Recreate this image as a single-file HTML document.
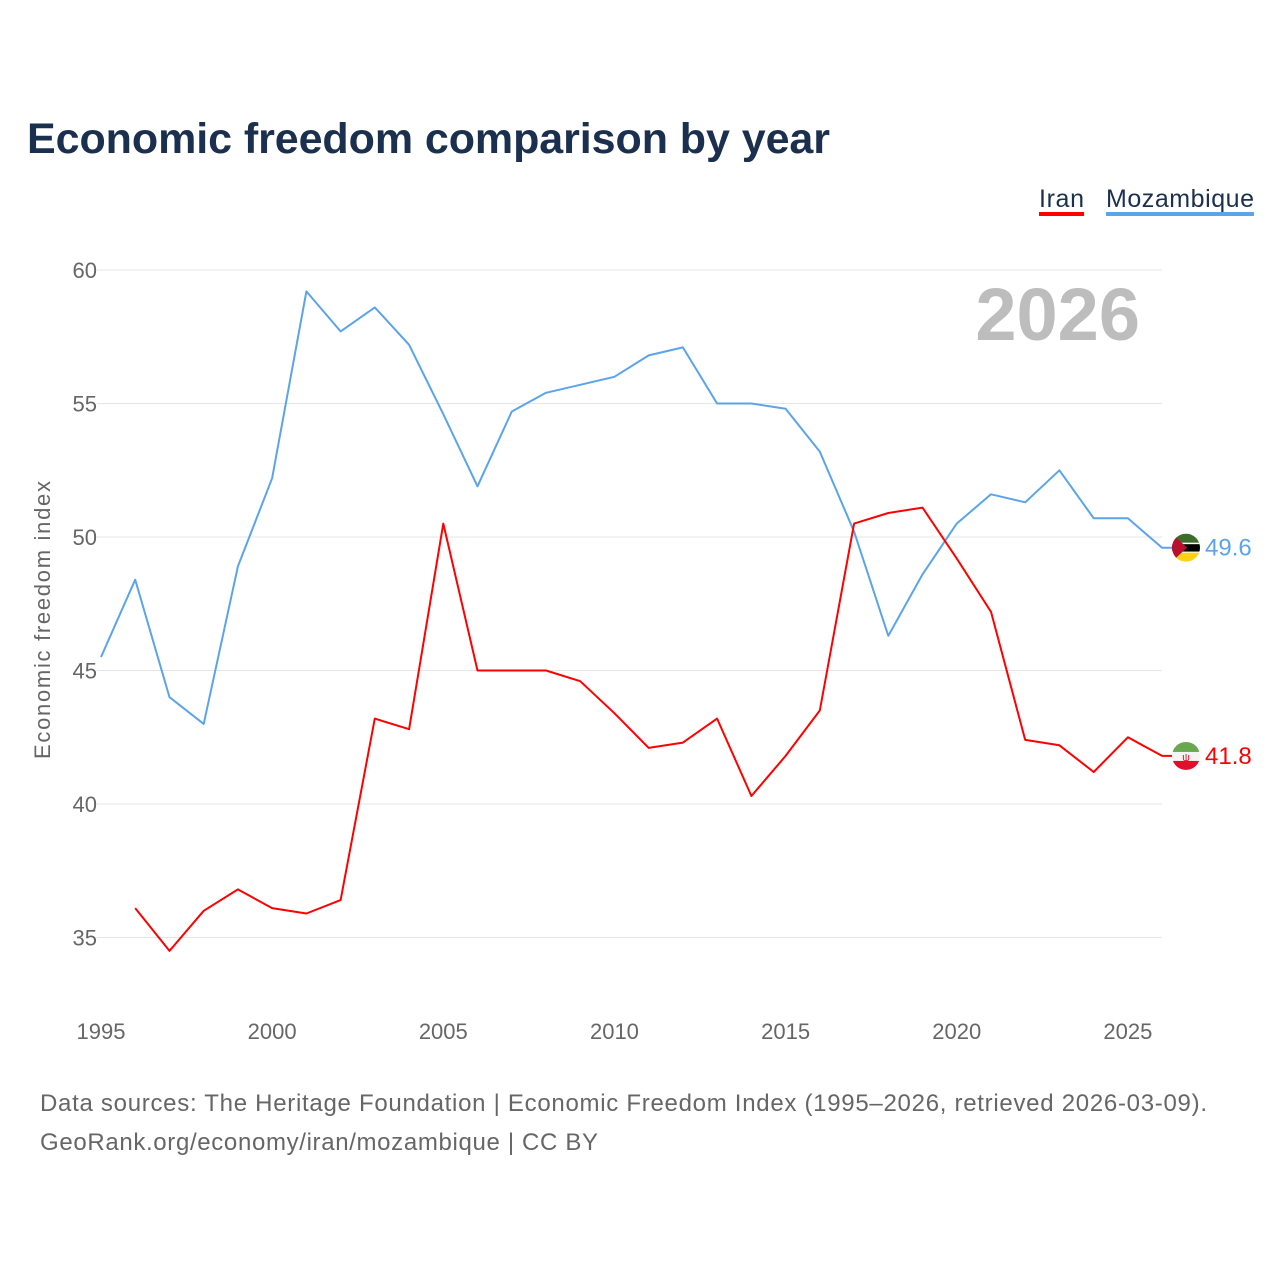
<!DOCTYPE html>
<html><head><meta charset="utf-8"><style>
body{margin:0;background:#fff;font-family:"Liberation Sans",sans-serif}
</style></head><body>
<svg width="1280" height="1280" xmlns="http://www.w3.org/2000/svg">
<rect width="1280" height="1280" fill="#fff"/>
<text x="27" y="153" font-size="43" font-weight="bold" fill="#1b2f4e" textLength="803">Economic freedom comparison by year</text>
<g id="legend" font-size="25" fill="#1b2f4e">
<text x="1039" y="207" textLength="45">Iran</text>
<rect x="1039" y="212" width="45" height="4" fill="#ff0000"/>
<text x="1106" y="207" textLength="148">Mozambique</text>
<rect x="1106" y="212" width="148" height="4" fill="#5ba4ea"/>
</g>
<text x="1140" y="340" font-size="74" font-weight="bold" fill="#bdbdbd" text-anchor="end">2026</text>
<g id="grid"></g><g id="xt"></g>
<text transform="translate(50,620) rotate(-90)" font-size="22" fill="#666" text-anchor="middle" textLength="278">Economic freedom index</text>
<g id="series"></g>
<defs id="defs"></defs>
<g id="ends"></g>
<text x="40" y="1111" font-size="24" fill="#666" textLength="1167">Data sources: The Heritage Foundation | Economic Freedom Index (1995–2026, retrieved 2026-03-09).</text>
<text x="40" y="1150" font-size="24" fill="#666" textLength="558">GeoRank.org/economy/iran/mozambique | CC BY</text>
</svg>
<script>
const years=[1995,1996,1997,1998,1999,2000,2001,2002,2003,2004,2005,2006,2007,2008,2009,2010,2011,2012,2013,2014,2015,2016,2017,2018,2019,2020,2021,2022,2023,2024,2025,2026];
const mozambique=[45.5,48.4,44.0,43.0,48.9,52.2,59.2,57.7,58.6,57.2,54.6,51.9,54.7,55.4,55.7,56.0,56.8,57.1,55.0,55.0,54.8,53.2,50.2,46.3,48.6,50.5,51.6,51.3,52.5,50.7,50.7,49.6];
const iran=[null,36.1,34.5,36.0,36.8,36.1,35.9,36.4,43.2,42.8,50.5,45.0,45.0,45.0,44.6,43.4,42.1,42.3,43.2,40.3,41.8,43.5,50.5,50.9,51.1,49.2,47.2,42.4,42.2,41.2,42.5,41.8];
const yTicks=[35,40,45,50,55,60];
const xTicks=[1995,2000,2005,2010,2015,2020,2025];
const NS="http://www.w3.org/2000/svg";
const X=y=>101+(y-1995)*34.23;
const Y=v=>270+(60-v)*26.7;
function mk(t,a,p){const e=document.createElementNS(NS,t);for(const k in a)e.setAttribute(k,a[k]);p.appendChild(e);return e;}
const g=document.getElementById('grid');
yTicks.forEach(v=>{
 const l=mk('line',{x1:97,x2:1162,y1:Y(v),y2:Y(v),stroke:'#e6e6e6','stroke-width':1},g);
 
 
 const t=mk('text',{x:97,y:Y(v)+8,'font-size':22,fill:'#666','text-anchor':'end'},g);
 t.textContent=v;
 
 
});
const xt=document.getElementById('xt');
xTicks.forEach(v=>{
 const t=mk('text',{x:X(v),y:1039,'font-size':22,fill:'#666','text-anchor':'middle'},xt);
 t.textContent=v;
 
 
});
const s=document.getElementById('series');
const defs=document.getElementById('defs');
function line(vals,col,name){
 let d='',pen=false;
 vals.forEach((v,i)=>{if(v==null){pen=false;return;}d+=(pen?'L':'M')+X(years[i]).toFixed(1)+','+Y(v).toFixed(1);pen=true;});
 const last=vals[vals.length-1], y=Y(last);
 d+='L1172,'+y.toFixed(1);
 const p=mk('path',{d:d,fill:'none',stroke:col,'stroke-width':2,'stroke-linejoin':'round'},s);
 
 
 const cp=mk('clipPath',{id:name+'-clip'},defs);
 mk('circle',{cx:1186,cy:y,r:14},cp);
 const e=mk('g',{'clip-path':`url(#${name}-clip)`},document.getElementById('ends'));
 
 
 if(col==='#ff0000'){
  mk('rect',{x:1172,y:y-14,width:28,height:28,fill:'#f4f4f4'},e);
  mk('rect',{x:1172,y:y-14,width:28,height:10,fill:'#6aa84f'},e);
  mk('rect',{x:1172,y:y+5,width:28,height:9,fill:'#e0102a'},e);
  mk('text',{x:1186,y:y+5,'font-size':11,fill:'#e0102a','text-anchor':'middle'},e).textContent='ψ';
 } else {
  mk('rect',{x:1172,y:y-14,width:28,height:10,fill:'#3d6b2a'},e);
  mk('rect',{x:1172,y:y-4,width:28,height:8,fill:'#000'},e);
  mk('rect',{x:1172,y:y-5,width:28,height:1.5,fill:'#fff'},e);
  mk('rect',{x:1172,y:y+4,width:28,height:1.5,fill:'#fff'},e);
  mk('rect',{x:1172,y:y+5,width:28,height:9,fill:'#fcd116'},e);
  mk('path',{d:`M1172,${y-14}l15,14l-15,14z`,fill:'#b8102f'},e);
 }
 const t=mk('text',{x:1205,y:y+8,'font-size':24,fill:col},document.getElementById('ends'));
 t.textContent=last.toFixed(1);
 
 
}
line(mozambique,'#5ba4ea','mozambique-line');
line(iran,'#ff0000','iran-line');
</script>
</body></html>
